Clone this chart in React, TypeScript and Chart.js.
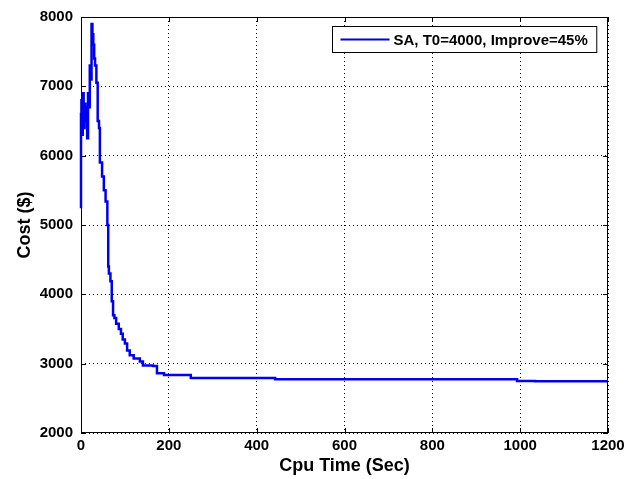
import React, { useEffect, useRef } from "react";
import { Chart, registerables } from "chart.js";

Chart.register(...registerables);

const seriesLabel = "SA, T0=4000, Improve=45%";
const xTitle = "Cpu Time (Sec)";
const yTitle = "Cost ($)";
const xTicks = [0, 200, 400, 600, 800, 1000, 1200];
const yTicks = [2000, 3000, 4000, 5000, 6000, 7000, 8000];

const cpuTime = [
  0, 1, 2.5, 4, 6, 8, 10, 12, 14, 16, 18, 20, 22, 24, 26, 28, 30, 32, 35, 38,
  41, 43, 48, 52, 56, 60, 62, 63.5, 67, 70, 73, 76, 80, 86, 91, 95, 100, 105,
  111, 120, 134, 141, 164, 173, 189, 250, 442, 993, 1034, 1200,
];
const cost = [
  5240, 6600, 6800, 6300, 6900, 6400, 6750, 6500, 6700, 6250, 6900, 6700, 7300,
  7100, 7900, 7750, 7600, 7400, 7300, 7050, 6500, 6400, 5900, 5700, 5500, 5340,
  5000, 4400, 4300, 4190, 3900, 3700, 3660, 3575, 3500, 3430, 3350, 3290, 3190,
  3120, 3075, 3030, 2975, 2965, 2860, 2835, 2795, 2775, 2750, 2745,
];

const FONT = "'Liberation Sans', Arial, sans-serif";
const LINE_COLOR = "#0000f0";

const boxPlugin = {
  id: "matlabBox",
  beforeDatasetsDraw(chart: any) {
    const { ctx, chartArea: a, scales } = chart;
    ctx.save();
    ctx.strokeStyle = "#000";
    ctx.lineWidth = 1;
    ctx.setLineDash([]);
    ctx.strokeRect(
      Math.round(a.left) + 0.5,
      Math.round(a.top) + 0.5,
      Math.round(a.right - a.left) - 1,
      Math.round(a.bottom - a.top) - 1
    );
    const tl = 5;
    ctx.beginPath();
    for (const v of xTicks) {
      const px = Math.round(scales.x.getPixelForValue(v)) + 0.5;
      ctx.moveTo(px, a.bottom);
      ctx.lineTo(px, a.bottom - tl);
      ctx.moveTo(px, a.top);
      ctx.lineTo(px, a.top + tl);
    }
    for (const v of yTicks) {
      const py = Math.round(scales.y.getPixelForValue(v)) + 0.5;
      ctx.moveTo(a.left, py);
      ctx.lineTo(a.left + tl, py);
      ctx.moveTo(a.right, py);
      ctx.lineTo(a.right - tl, py);
    }
    ctx.stroke();
    ctx.restore();
  },
  afterDraw(chart: any) {
    const { ctx, chartArea: a } = chart;
    ctx.save();
    const ds = chart.data.datasets[0];
    ctx.font = `bold 15px ${FONT}`;
    const tw = ctx.measureText(ds.label).width;
    const lineLen = 49;
    const padL = 8;
    const gap = 4;
    const padR = 9;
    const boxW = padL + lineLen + gap + tw + padR;
    const boxH = 26;
    const bx = Math.round(a.right - 12 - boxW) + 0.5;
    const by = Math.round(a.top + 9) + 0.5;
    ctx.fillStyle = "#fff";
    ctx.fillRect(bx, by, boxW, boxH);
    ctx.strokeStyle = "#000";
    ctx.lineWidth = 1;
    ctx.strokeRect(bx, by, boxW, boxH);
    const cy = by + boxH / 2;
    ctx.beginPath();
    ctx.strokeStyle = "#0000cc";
    ctx.lineWidth = 2;
    ctx.moveTo(bx + padL, cy);
    ctx.lineTo(bx + padL + lineLen, cy);
    ctx.stroke();
    ctx.fillStyle = "#000";
    ctx.textBaseline = "middle";
    ctx.textAlign = "left";
    ctx.fillText(ds.label, bx + padL + lineLen + gap, cy + 1);
    ctx.restore();
  },
};

export default function App() {
  const ref = useRef<HTMLCanvasElement | null>(null);

  useEffect(() => {
    if (!ref.current) return;
    const points = cpuTime.map((t, i) => ({ x: t, y: cost[i] }));
    const chart = new Chart(ref.current, {
      type: "line",
      data: {
        datasets: [
          {
            label: seriesLabel,
            data: points,
            borderColor: LINE_COLOR,
            borderWidth: 2.5,
            pointRadius: 0,
            stepped: "after",
            fill: false,
            clip: 3,
          },
        ],
      },
      options: {
        animation: false,
        responsive: false,
        devicePixelRatio: 1,
        layout: { padding: { top: 14, right: 26, left: 0, bottom: 0 } },
        plugins: {
          legend: { display: false },
          tooltip: { enabled: false },
        },
        scales: {
          x: {
            type: "linear",
            min: 0,
            max: 1200,
            afterBuildTicks: (s: any) => {
              s.ticks = xTicks.map((v) => ({ value: v }));
            },
            afterFit: (s: any) => {
              s.height = 46;
            },
            ticks: {
              color: "#000",
              font: { family: FONT, size: 15, weight: "bold" },
              padding: 4,
              maxRotation: 0,
              autoSkip: false,
              callback: (v: any) => String(v),
            },
            grid: { color: "#000", lineWidth: 1, drawTicks: false },
            border: { display: false, dash: [1, 3] },
            title: {
              display: true,
              text: xTitle,
              color: "#000",
              font: { family: FONT, size: 18, weight: "bold" },
              padding: { top: 0, bottom: 2 },
            },
          },
          y: {
            type: "linear",
            min: 2000,
            max: 8000,
            afterBuildTicks: (s: any) => {
              s.ticks = yTicks.map((v) => ({ value: v }));
            },
            afterFit: (s: any) => {
              s.width = 81;
            },
            ticks: {
              color: "#000",
              font: { family: FONT, size: 15, weight: "bold" },
              padding: 8,
              autoSkip: false,
              callback: (v: any) => String(v),
            },
            grid: { color: "#000", lineWidth: 1, drawTicks: false },
            border: { display: false, dash: [1, 3] },
            title: {
              display: true,
              text: yTitle,
              color: "#000",
              font: { family: FONT, size: 18, weight: "bold" },
              padding: { top: 14, bottom: 0 },
            },
          },
        },
      },
      plugins: [boxPlugin],
    });
    return () => chart.destroy();
  }, []);

  return (
    <div
      style={{
        position: "fixed",
        left: 0,
        top: 0,
        width: 634,
        height: 479,
        background: "#fff",
      }}
    >
      <canvas ref={ref} width={634} height={479} />
    </div>
  );
}
